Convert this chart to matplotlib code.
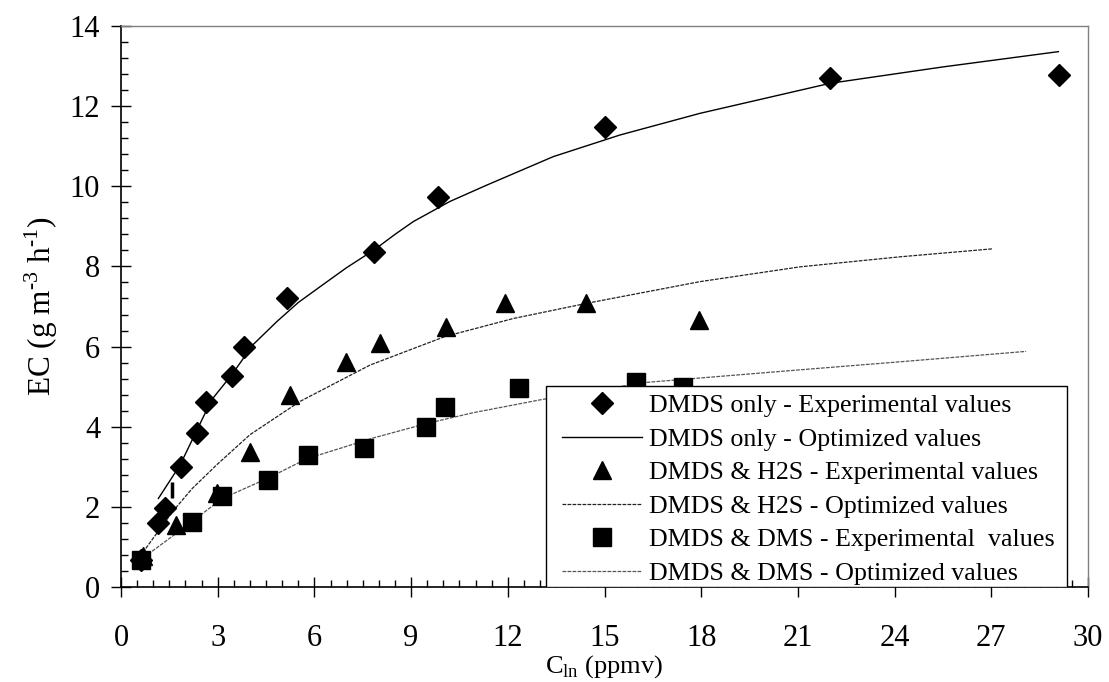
import matplotlib
matplotlib.use('Agg')
import matplotlib.pyplot as plt
from matplotlib.patches import Rectangle
from matplotlib.ticker import MultipleLocator

plt.rcParams['font.family'] = 'Liberation Serif'
plt.rcParams['mathtext.fontset'] = 'custom'
plt.rcParams['mathtext.rm'] = 'Liberation Serif'

# experimental points
dmds_x = [0.62, 1.16, 1.37, 1.86, 2.37, 2.64, 3.45, 3.81, 5.16, 7.86, 9.84, 15.0, 22.0, 29.1]
dmds_y = [0.67, 1.59, 1.96, 2.99, 3.85, 4.62, 5.27, 6.0, 7.2, 8.37, 9.73, 11.49, 12.71, 12.78]

h2s_x = [0.68, 1.70, 2.97, 4.0, 5.24, 6.97, 8.04, 10.07, 11.91, 14.43, 17.93]
h2s_y = [0.78, 1.55, 2.34, 3.38, 4.79, 5.62, 6.08, 6.5, 7.08, 7.09, 6.66]

dms_x = [0.62, 2.19, 3.12, 4.55, 5.79, 7.54, 9.46, 10.05, 12.36, 15.98, 17.45]
dms_y = [0.67, 1.63, 2.27, 2.67, 3.29, 3.46, 4.0, 4.5, 4.96, 5.12, 5.0]

# optimized curves, traced points
dmds_fit_x = [1.16, 1.83, 2.81, 3.43, 4.1, 4.83, 5.5, 6.17, 7.0, 7.85, 8.5, 9.07, 10.2, 11.35,
              13.41, 15.48, 17.96, 22.0, 25.51, 29.08]
dmds_fit_y = [2.21, 3.04, 4.67, 5.29, 6.05, 6.62, 7.1, 7.49, 7.97, 8.41, 8.8, 9.12, 9.62, 10.03,
              10.74, 11.28, 11.82, 12.57, 12.98, 13.36]

h2s_fit_x = [0.59, 1.0, 1.62, 2.2, 2.97, 4.0, 5.55, 7.73, 10.05, 12.17, 14.45, 17.96, 21.07, 24.17, 27.05]
h2s_fit_y = [0.76, 1.22, 1.9, 2.45, 3.05, 3.8, 4.63, 5.54, 6.25, 6.7, 7.08, 7.62, 7.99, 8.24, 8.44]

dms_fit_x = [0.59, 2.14, 3.12, 4.57, 5.76, 7.83, 9.48, 10.93, 13.0, 16.21, 21.07, 24.17, 28.08]
dms_fit_y = [0.67, 1.59, 2.2, 2.72, 3.2, 3.72, 4.08, 4.35, 4.67, 5.1, 5.42, 5.62, 5.88]

# stray short bar near the first points
bar_x = [1.59, 1.59]
bar_y = [2.21, 2.63]

fig = plt.figure(figsize=(11.09, 6.82), dpi=100)
ax = fig.add_axes([121 / 1109, 1 - 587 / 682, 967 / 1109, 561 / 682])

ax.plot(dmds_fit_x, dmds_fit_y, color='black', lw=1.0, zorder=2)
ax.plot(h2s_fit_x, h2s_fit_y, color='#222222', lw=0.9, ls=(0, (3, 1)), zorder=2)
ax.plot(dms_fit_x, dms_fit_y, color='#555555', lw=0.9, ls=(0, (3, 1)), zorder=2)
ax.plot(bar_x, bar_y, color='black', lw=2.5, solid_capstyle='butt', zorder=2)

ax.plot(dmds_x, dmds_y, 'D', color='black', ms=11, ls='none', zorder=3)
ax.plot(h2s_x, h2s_y, '^', color='black', ms=13.5, ls='none', zorder=3)
ax.plot(dms_x, dms_y, 's', color='black', ms=13, ls='none', zorder=3)

ax.set_xlim(0, 30)
ax.set_ylim(0, 14)
ax.xaxis.set_major_locator(MultipleLocator(3))
ax.xaxis.set_minor_locator(MultipleLocator(0.5))
ax.yaxis.set_major_locator(MultipleLocator(2))
ax.yaxis.set_minor_locator(MultipleLocator(0.4))
ax.tick_params(which='major', direction='inout', length=14, width=1, labelsize=22)
ax.tick_params(axis='x', which='major', pad=20)
ax.tick_params(axis='y', which='major', pad=8)
ax.tick_params(which='minor', direction='in', length=5, width=1)

for side in ['top', 'right']:
    ax.spines[side].set_color('#808080')
    ax.spines[side].set_linewidth(1.0)
for side in ['left', 'bottom']:
    ax.spines[side].set_linewidth(1.2)

ax.set_xlabel(r'C$_{\mathregular{ln}}$ (ppmv)', fontsize=19, labelpad=0)
ax.set_ylabel(r'EC (g m$^{\text{-3}}$ h$^{\text{-1}}$)', fontsize=22.5, labelpad=7)

# legend box sits on top of the data, like the original
box = Rectangle((0.4395, 0.0), 0.5385, 0.358, transform=ax.transAxes,
                facecolor='white', edgecolor='black', lw=1.0, zorder=4)
ax.add_patch(box)

handles = [
    plt.Line2D([], [], marker='D', color='black', ms=11, ls='none'),
    plt.Line2D([], [], color='black', lw=1.0),
    plt.Line2D([], [], marker='^', color='black', ms=13.5, ls='none'),
    plt.Line2D([], [], color='#222222', lw=0.9, ls=(0, (3, 1))),
    plt.Line2D([], [], marker='s', color='black', ms=13, ls='none'),
    plt.Line2D([], [], color='#555555', lw=0.9, ls=(0, (3, 1))),
]
labels = [
    'DMDS only - Experimental values',
    'DMDS only - Optimized values',
    'DMDS & H2S - Experimental values',
    'DMDS & H2S - Optimized values',
    'DMDS & DMS - Experimental  values',
    'DMDS & DMS - Optimized values',
]
leg = ax.legend(handles, labels, loc='upper left', bbox_to_anchor=(0.456, 0.344),
                frameon=False, fontsize=18.7, handlelength=3.1, handletextpad=0.25,
                labelspacing=0.4, borderpad=0, borderaxespad=0)
leg.set_zorder(5)

fig.savefig('out.png', dpi=100)
